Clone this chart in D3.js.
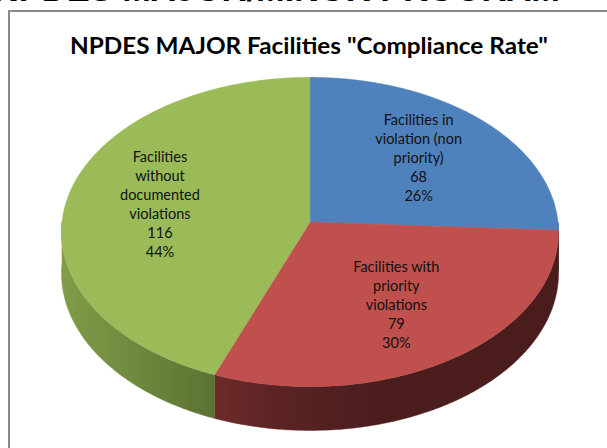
<!DOCTYPE html>
<html>
<head>
<meta charset="utf-8">
<script src="https://cdn.jsdelivr.net/npm/d3@7"></script>
<style>
  body { margin: 0; background: #fff; }
  svg { display: block; }
</style>
</head>
<body>
<div id="chart"></div>
<script>
// slide heading (cut off at top) and chart title
var slideTitle = "NPDES MAJOR/MINOR PROGRAM";
var title = "NPDES MAJOR Facilities \"Compliance Rate\"";

// data
var categories = ["Facilities in violation (non priority)", "Facilities with priority violations", "Facilities without documented violations"];
var counts = [68, 79, 116];
var percents = ["26%", "30%", "44%"];
var labelLines = [
  ["Facilities in", "violation (non", "priority)"],
  ["Facilities with", "priority", "violations"],
  ["Facilities", "without", "documented", "violations"]
];
var topColors = ["#4f81bd", "#c0504d", "#9bbb59"];

var w = 607, h = 448;
var cx = 310, cy = 222, R = 248, K = 154, persp = 0.0645, depth = 41, labelR = 0.62;

var svg = d3.select("#chart").append("svg")
  .attr("width", w)
  .attr("height", h);

// projected point on the tilted pie: theta clockwise from back, r radius fraction, dz drop
function proj(theta, r, dz) {
  var z = r * Math.cos(theta);
  var s = 1 / (1 + persp * z);
  return [cx + R * r * Math.sin(theta) * s, cy - K * z * s + dz * s];
}

function arcPoints(a, b, dz) {
  var n = Math.max(2, Math.ceil((b - a) / 0.01));
  return d3.range(n + 1).map(function(i) {
    return proj(a + (b - a) * i / n, 1, dz);
  });
}

var pie = d3.pie().sort(null).value(function(d) { return d; });
var arcs = pie(counts);

// side wall shading, per slice
var sideStops = [
  [["0%", "#3a608e"], ["100%", "#2c4a70"]],
  [["0%", "#6e2a2a"], ["20%", "#5a2323"], ["45%", "#4b1d1d"], ["100%", "#4a1c1c"]],
  [["0%", "#809d49"], ["100%", "#5c7232"]]
];

var defs = svg.append("defs");
arcs.forEach(function(d, i) {
  var a = Math.max(d.startAngle, Math.PI / 2), b = Math.min(d.endAngle, 3 * Math.PI / 2);
  var p0 = proj(a, 1, 0), p1 = proj(b, 1, 0);
  var g = defs.append("linearGradient")
    .attr("id", "side" + i)
    .attr("gradientUnits", "userSpaceOnUse")
    .attr("x1", Math.min(p0[0], p1[0])).attr("y1", 0)
    .attr("x2", Math.max(p0[0], p1[0])).attr("y2", 0);
  sideStops[i].forEach(function(s) {
    g.append("stop").attr("offset", s[0]).attr("stop-color", s[1]);
  });
});

// slide heading, mostly off the top edge
svg.append("text")
  .attr("x", -6)
  .attr("y", 1)
  .attr("font-family", "Liberation Sans, Arial, sans-serif")
  .attr("font-weight", "bold")
  .attr("font-size", 36)
  .attr("textLength", 566)
  .attr("lengthAdjust", "spacingAndGlyphs")
  .attr("fill", "#000")
  .text(slideTitle);

// chart frame
svg.append("path")
  .attr("d", "M9,460 L9,11 L620,11")
  .attr("fill", "none")
  .attr("stroke", "#8a8a8a")
  .attr("stroke-width", 2);

// front walls
var line = d3.line();
arcs.forEach(function(d, i) {
  var a = Math.max(d.startAngle, Math.PI / 2), b = Math.min(d.endAngle, 3 * Math.PI / 2);
  if (b <= a) return;
  var pts = arcPoints(a, b, 0).concat(arcPoints(a, b, depth).reverse());
  svg.append("path")
    .attr("d", line(pts) + "Z")
    .attr("fill", "url(#side" + i + ")")
    .attr("stroke", "url(#side" + i + ")")
    .attr("stroke-width", 0.5);
});

// top faces
arcs.forEach(function(d, i) {
  var pts = [proj(0, 0, 0)].concat(arcPoints(d.startAngle, d.endAngle, 0));
  svg.append("path")
    .attr("d", line(pts) + "Z")
    .attr("fill", topColors[i])
    .attr("stroke", topColors[i])
    .attr("stroke-width", 0.5);
});

// chart title
svg.append("text")
  .attr("x", cx - 1)
  .attr("y", 54)
  .attr("text-anchor", "middle")
  .attr("font-family", "Lato, sans-serif")
  .attr("font-weight", "bold")
  .attr("font-size", 23)
  .attr("textLength", 478)
  .attr("lengthAdjust", "spacingAndGlyphs")
  .attr("fill", "#000")
  .text(title);

// data labels
var lh = 19;
arcs.forEach(function(d, i) {
  var mid = (d.startAngle + d.endAngle) / 2;
  var p = proj(mid, labelR, 0);
  var lines = labelLines[i].concat([String(counts[i]), percents[i]]);
  var t = svg.append("text")
    .attr("text-anchor", "middle")
    .attr("font-family", "Lato, sans-serif")
    .attr("font-size", 14.5)
    .attr("fill", "#111");
  lines.forEach(function(s, j) {
    t.append("tspan")
      .attr("x", p[0])
      .attr("y", p[1] - (lines.length - 1) * lh / 2 + j * lh + 5)
      .text(s);
  });
});
</script>
</body>
</html>
